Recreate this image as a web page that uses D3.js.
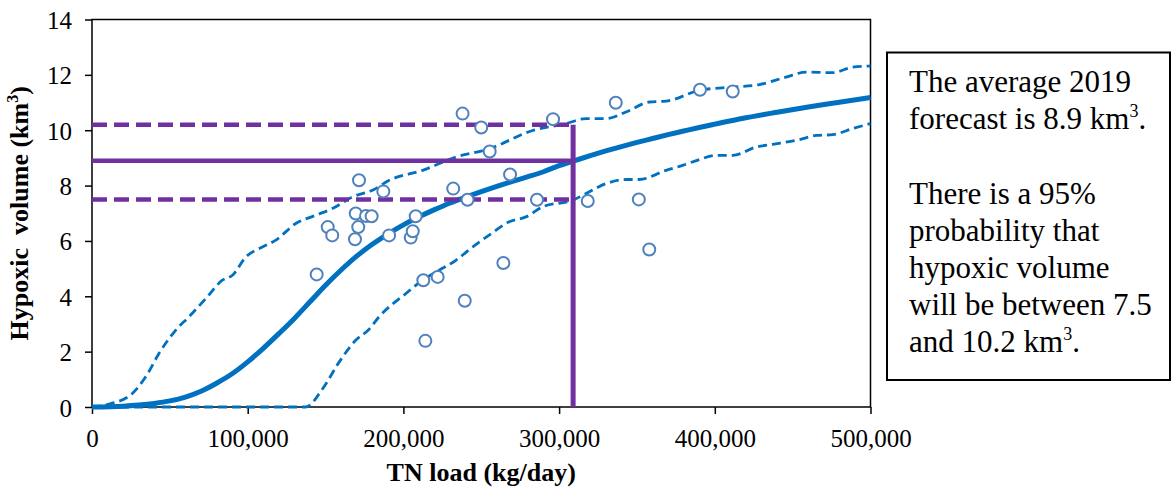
<!DOCTYPE html>
<html>
<head>
<meta charset="utf-8">
<script src="https://cdn.jsdelivr.net/npm/d3@7"></script>
<style>
  body { margin: 0; background: #fff; }
  svg { display: block; }
</style>
</head>
<body>
<div id="chart"></div>
<script>
// observed years : TN load (kg/day) and hypoxic volume (km3)
const obsLoad = [144300, 151400, 154300, 168900, 169400, 171000, 171500, 176000, 179600, 187100,
  190800, 204700, 206000, 207900, 212800, 214100, 222000, 232000, 238000, 239400,
  241200, 250000, 255400, 264200, 268500, 285800, 296100, 318400, 336400, 351200,
  357900, 390500, 411500];
const obsVolume = [4.79, 6.50, 6.20, 6.06, 6.99, 6.50, 8.19, 6.90, 6.89, 7.79,
  6.20, 6.12, 6.35, 6.89, 4.58, 2.39, 4.70, 7.89, 10.60, 3.84,
  7.49, 10.10, 9.23, 5.20, 8.40, 7.49, 10.40, 7.44, 10.99, 7.50,
  5.69, 11.46, 11.40];

// model mean curve
const meanLoad = [0, 20000, 30000, 40000, 50000, 60000, 70000, 80000, 90000, 100000, 110000, 120000,
  130000, 140000, 150000, 160000, 170000, 180000, 190000, 200000, 210000, 220000, 230000,
  240000, 250000, 260000, 270000, 280000, 290000, 300000, 310000, 320000, 330000, 340000,
  350000, 360000, 370000, 380000, 390000, 400000, 420000, 440000, 460000, 480000, 500000];
const meanVolume = [0, 0.03, 0.07, 0.13, 0.22, 0.36, 0.57, 0.86, 1.2, 1.63, 2.12, 2.65,
  3.2, 3.8, 4.4, 4.95, 5.45, 5.88, 6.25, 6.58, 6.87, 7.13, 7.37,
  7.58, 7.78, 7.97, 8.15, 8.32, 8.5, 8.72, 8.9, 9.08, 9.25, 9.41,
  9.56, 9.7, 9.84, 9.97, 10.1, 10.22, 10.45, 10.65, 10.84, 11.01, 11.18];

// upper 95% bound
const upperLoad = [0, 12000, 25900, 34500, 43100, 53800, 62300, 73100, 83700, 90200, 98800,
  109400, 118100, 130900, 143800, 154400, 167300, 180100, 190900, 212300, 233700, 255100,
  283000, 304400, 317300, 330100, 343000, 358000, 368700, 390100, 411500, 428700, 445800,
  458700, 475800, 488600, 500000];
const upperVolume = [0, 0.12, 0.49, 1.09, 1.94, 2.78, 3.26, 3.92, 4.58, 4.76, 5.42,
  5.78, 6.03, 6.63, 6.93, 7.17, 7.59, 7.83, 8.19, 8.55, 9.03, 9.33,
  9.99, 10.24, 10.42, 10.42, 10.66, 11.02, 11.05, 11.44, 11.56, 11.65, 11.92,
  12.10, 12.08, 12.28, 12.32];

// lower 95% bound
const lowerLoad = [0, 137300, 148000, 158700, 169500, 177500, 184400, 201600, 212300, 223000,
  233700, 244400, 255100, 268000, 278700, 289400, 308700, 317300, 330100, 343000, 351500,
  368700, 379400, 390100, 400800, 411500, 426500, 437200, 454400, 465100, 475800, 488600, 500000];
const lowerVolume = [0, 0, 0.65, 1.62, 2.42, 2.78, 3.26, 4.10, 4.58, 4.94,
  5.30, 5.78, 6.21, 6.69, 6.87, 7.23, 7.47, 7.71, 8.07, 8.22, 8.22,
  8.55, 8.73, 8.94, 9.09, 9.09, 9.39, 9.49, 9.66, 9.81, 9.84, 10.06, 10.24];

// 2019 forecast
const forecastLoad = 309000;
const forecastMean = 8.9;
const forecastLow = 7.5;
const forecastHigh = 10.2;

const xTicks = [0, 100000, 200000, 300000, 400000, 500000];
const yTicks = [0, 2, 4, 6, 8, 10, 12, 14];

const boxLines = [
  [{ t: "The average 2019" }],
  [{ t: "forecast is 8.9 km" }, { t: "3", sup: true }, { t: "." }],
  null,
  [{ t: "There is a 95%" }],
  [{ t: "probability that" }],
  [{ t: "hypoxic volume" }],
  [{ t: "will be between 7.5" }],
  [{ t: "and 10.2 km" }, { t: "3", sup: true }, { t: "." }]
];

//---------------------------------------------------------------------------------------

const W = 1172, H = 487;
const plot = { left: 92, right: 870.5, top: 19.5, bottom: 407 };
const serif = "\"Liberation Serif\"";

const svg = d3.select("#chart").append("svg")
  .attr("width", W)
  .attr("height", H);

const x = d3.scaleLinear().domain([0, 500000]).range([plot.left, plot.right]);
const y = d3.scaleLinear().domain([0, 14]).range([plot.bottom, plot.top]);

// axes
svg.append("g")
  .attr("transform", `translate(0, ${plot.bottom})`)
  .call(d3.axisBottom(x).tickValues(xTicks).tickSize(7).tickSizeOuter(0).tickFormat(d3.format(",")))
  .call(g => g.select(".domain").remove())
  .call(g => g.selectAll(".tick line").attr("stroke", "#000").attr("stroke-width", 1.5))
  .call(g => g.selectAll("text")
    .attr("y", 0).attr("dy", null)
    .attr("transform", "translate(0, 40)")
    .attr("fill", "#000")
    .style("font-family", serif)
    .style("font-size", "25px"));

svg.append("g")
  .attr("transform", `translate(${plot.left}, 0)`)
  .call(d3.axisLeft(y).tickValues(yTicks).tickSize(7).tickSizeOuter(0))
  .call(g => g.select(".domain").remove())
  .call(g => g.selectAll(".tick line").attr("stroke", "#000").attr("stroke-width", 1.5))
  .call(g => g.selectAll("text")
    .attr("x", -20).attr("dy", "0.36em")
    .attr("fill", "#000")
    .style("font-family", serif)
    .style("font-size", "25px"));

// plot frame
svg.append("rect")
  .attr("x", plot.left)
  .attr("y", plot.top)
  .attr("width", plot.right - plot.left)
  .attr("height", plot.bottom - plot.top)
  .attr("fill", "none")
  .attr("stroke", "#000")
  .attr("stroke-width", 1.5);

// axis titles
svg.append("text")
  .attr("x", (plot.left + plot.right) / 2)
  .attr("y", 481)
  .attr("text-anchor", "middle")
  .style("font-family", serif)
  .style("font-weight", "bold")
  .style("font-size", "26px")
  .text("TN load (kg/day)");

const yTitle = svg.append("text")
  .attr("transform", `translate(28, ${(plot.top + plot.bottom) / 2}) rotate(-90)`)
  .attr("text-anchor", "middle")
  .style("font-family", serif)
  .style("font-weight", "bold")
  .style("font-size", "26px")
  .style("white-space", "pre");
yTitle.append("tspan").text("Hypoxic  volume (km");
yTitle.append("tspan").style("font-size", "16px").attr("dy", -10).text("3");
yTitle.append("tspan").attr("dy", 10).text(")");

//---------------------------------------------------------------------------------------

// blue curves
const line = d3.line()
  .x(d => x(d[0]))
  .y(d => y(d[1]))
  .curve(d3.curveMonotoneX);

const curves = [
  { load: upperLoad, vol: upperVolume, w: 2.8, dash: "9,5" },
  { load: lowerLoad, vol: lowerVolume, w: 2.8, dash: "9,5" },
  { load: meanLoad, vol: meanVolume, w: 5, dash: null }
];

svg.append("g")
  .selectAll("path")
  .data(curves)
  .join("path")
  .attr("d", c => line(d3.zip(c.load, c.vol)))
  .attr("fill", "none")
  .attr("stroke", "#0070C0")
  .attr("stroke-width", c => c.w)
  .attr("stroke-dasharray", c => c.dash);

// purple forecast lines
const purple = "#7030A0";
const gF = svg.append("g").attr("stroke", purple).attr("fill", "none");

gF.selectAll("line.band")
  .data([forecastLow, forecastHigh])
  .join("line")
  .attr("class", "band")
  .attr("x1", x(0))
  .attr("x2", x(forecastLoad))
  .attr("y1", d => y(d))
  .attr("y2", d => y(d))
  .attr("stroke-width", 4.5)
  .attr("stroke-dasharray", "15,7");

gF.append("line")
  .attr("x1", x(0))
  .attr("x2", x(forecastLoad))
  .attr("y1", y(forecastMean))
  .attr("y2", y(forecastMean))
  .attr("stroke-width", 4.5);

gF.append("line")
  .attr("x1", x(forecastLoad))
  .attr("x2", x(forecastLoad))
  .attr("y1", y(0))
  .attr("y2", y(forecastHigh))
  .attr("stroke-width", 5);

// observations
svg.append("g")
  .selectAll("circle")
  .data(d3.zip(obsLoad, obsVolume))
  .join("circle")
  .attr("cx", d => x(d[0]))
  .attr("cy", d => y(d[1]))
  .attr("r", 6)
  .attr("fill", "#fff")
  .attr("stroke", "#4F81BD")
  .attr("stroke-width", 2);

//---------------------------------------------------------------------------------------

// text box on the right
svg.append("rect")
  .attr("x", 887)
  .attr("y", 52.5)
  .attr("width", 283)
  .attr("height", 327.5)
  .attr("fill", "#fff")
  .attr("stroke", "#000")
  .attr("stroke-width", 2);

const boxText = svg.append("text")
  .style("font-family", serif)
  .style("font-size", "31px")
  .attr("fill", "#000");

boxLines.forEach((parts, i) => {
  if (!parts) return;
  const row = boxText.append("tspan")
    .attr("x", 909)
    .attr("y", 92 + i * 37.2);
  parts.forEach(p => {
    if (p.sup) {
      row.append("tspan").style("font-size", "18px").attr("dy", -12).text(p.t);
    } else {
      row.append("tspan").attr("dy", p.t === "." ? 12 : null).text(p.t);
    }
  });
});
</script>
</body>
</html>
